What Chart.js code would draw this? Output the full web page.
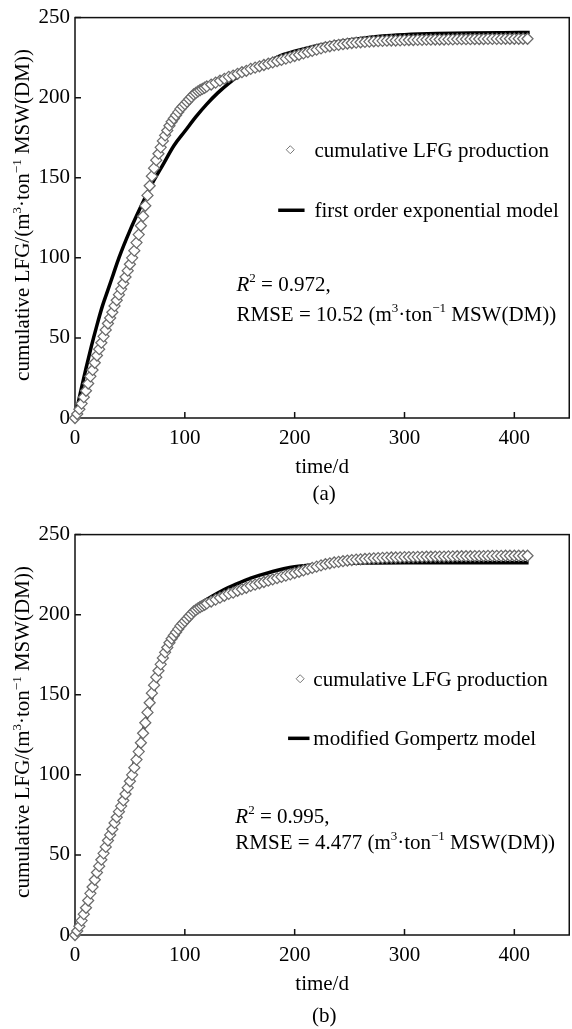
<!DOCTYPE html>
<html>
<head>
<meta charset="utf-8">
<script src="https://cdn.jsdelivr.net/npm/chart.js@4.4.1/dist/chart.umd.min.js"></script>
<style>
  html, body { margin: 0; padding: 0; background: #fff; overflow: hidden; width: 572px; height: 1029px; }
  .box { position: absolute; left: 0; width: 576px; height: 512px; }
</style>
</head>
<body>
<div class="box" style="top:0"><canvas id="chartA" width="576" height="512"></canvas></div>
<div class="box" style="top:517px"><canvas id="chartB" width="576" height="512"></canvas></div>
<script>
// measured cumulative LFG production, m3/ton MSW(DM)
const days = [0, 2, 4, 6, 8, 10, 12, 14, 16, 18, 20, 22, 24, 26, 28, 30, 32, 34, 36, 38,
  40, 42, 44, 46, 48, 50, 52, 54, 56, 58, 60, 62, 64, 66, 68, 70, 72, 74, 76, 78,
  80, 82, 84, 86, 88, 90, 92, 94, 96, 98, 100, 102, 104, 106, 108, 110, 112, 114, 116, 118,
  120, 124, 128, 132, 136, 140, 144, 148, 152, 156, 160, 164, 168, 172, 176, 180, 184, 188, 192, 196,
  200, 204, 208, 212, 216, 220, 224, 228, 232, 236, 240, 244, 248, 252, 256, 260, 264, 268, 272, 276,
  280, 284, 288, 292, 296, 300, 304, 308, 312, 316, 320, 324, 328, 332, 336, 340, 344, 348, 352, 356,
  360, 364, 368, 372, 376, 380, 384, 388, 392, 396, 400, 404, 408, 412];
const cumulativeLFG = [0, 2.5, 5.5, 9, 13, 17, 21.5, 26, 30, 34.5, 39, 43, 47, 51, 55, 59, 62.5, 66, 70, 73.5,
  77, 80.5, 84, 88, 92, 96, 100, 104.5, 109.5, 114.5, 120, 126, 132.5, 139, 145, 151, 156, 161, 165, 169,
  173, 176.5, 179.5, 182.5, 185, 187, 189, 191, 193, 194.5, 196, 197.5, 199, 200.5, 202, 203, 204, 204.8, 205.5, 206.2,
  207, 208.2, 209.4, 210.6, 211.8, 213, 213.8, 214.9, 215.9, 216.8, 218, 218.8, 219.6, 220.4, 221.2, 222, 222.8, 223.6, 224.4, 225.2,
  226, 226.8, 227.6, 228.4, 229.2, 230, 230.8, 231.5, 232.1, 232.6, 233, 233.4, 233.8, 234.1, 234.4, 234.6, 234.8, 235, 235.2, 235.3,
  235.5, 235.6, 235.7, 235.7, 235.8, 235.9, 236, 236, 236.1, 236.1, 236.2, 236.2, 236.3, 236.3, 236.3, 236.4, 236.4, 236.5, 236.5, 236.5,
  236.5, 236.6, 236.6, 236.6, 236.7, 236.7, 236.7, 236.7, 236.8, 236.8, 236.8, 236.8, 236.8, 236.8];

// first order exponential model (a)
const expDays = [0, 5, 10, 15, 20, 25, 30, 35, 40, 50, 60, 70, 80, 90, 100, 110, 120, 130, 140, 150,
  160, 170, 180, 190, 200, 220, 240, 260, 280, 300, 330, 360, 390, 414];
const expModel = [0, 16, 31, 45, 58, 70, 80, 90, 100, 117, 132, 146, 158, 170, 179, 188, 196, 203, 209, 214,
  218, 221, 224, 227, 229, 232.5, 235, 237, 238.5, 239.3, 240, 240.4, 240.6, 240.7];

// modified Gompertz model (b)
const gompDays = [0, 5, 10, 15, 20, 25, 30, 35, 40, 45, 50, 55, 60, 65, 70, 75, 80, 85, 90, 95,
  100, 110, 120, 130, 140, 150, 160, 170, 180, 190, 200, 220, 240, 270, 300, 350, 413];
const gompModel = [1, 7, 16, 27, 38, 49, 59, 69, 79, 89, 99, 110, 122, 135, 148, 160, 170, 179, 186, 192,
  197, 205, 209.5, 213.5, 217, 220, 222.8, 225, 227, 228.7, 230, 231.3, 232, 232.3, 232.4, 232.4, 232.4];

const xTicks = [0, 100, 200, 300, 400];
const yTicks = [0, 50, 100, 150, 200, 250];

const serif = '"Liberation Serif", "Times New Roman", serif';
const FS = 21;

function drawRuns(ctx, x, y, parts, size) {
  let cx = x;
  for (const p of parts) {
    const s = p.sup ? Math.round(size * 0.64) : size;
    ctx.font = (p.it ? 'italic ' : '') + s + 'px ' + serif;
    ctx.fillText(p.t, cx, p.sup ? y - size * 0.4 : y);
    cx += ctx.measureText(p.t).width;
  }
  return cx - x;
}
function runsWidth(ctx, parts, size) {
  let w = 0;
  for (const p of parts) {
    const s = p.sup ? Math.round(size * 0.64) : size;
    ctx.font = (p.it ? 'italic ' : '') + s + 'px ' + serif;
    w += ctx.measureText(p.t).width;
  }
  return w;
}
const unit = [{t: ' (m'}, {t: '3', sup: true}, {t: '·ton'}, {t: '−1', sup: true}, {t: ' MSW(DM))'}];
const yTitle = [{t: 'cumulative LFG/(m'}, {t: '3', sup: true}, {t: '·ton'}, {t: '−1', sup: true}, {t: ' MSW(DM))'}];

const frame = {
  id: 'frame',
  beforeDatasetsDraw(chart) {
    const {ctx, chartArea: a, scales: {x, y}} = chart;
    ctx.save();
    ctx.strokeStyle = '#111';
    ctx.lineWidth = 1.5;
    ctx.strokeRect(a.left, a.top, a.right - a.left, a.bottom - a.top);
    ctx.beginPath();
    xTicks.forEach(v => {
      const px = x.getPixelForValue(v);
      ctx.moveTo(px, a.bottom);
      ctx.lineTo(px, a.bottom - 6);
    });
    yTicks.forEach(v => {
      const py = y.getPixelForValue(v);
      ctx.moveTo(a.left, py);
      ctx.lineTo(a.left + 6, py);
    });
    ctx.stroke();
    ctx.restore();
  },
  afterDraw(chart) {
    const n = chart.options.plugins.frame;
    const {ctx, chartArea: a, scales: {x, y}} = chart;
    const X = v => x.getPixelForValue(v), Y = v => y.getPixelForValue(v);
    const base = FS * 0.33;
    ctx.save();
    ctx.fillStyle = '#000';
    ctx.textBaseline = 'alphabetic';
    ctx.textAlign = 'left';

    // legend: marker row
    ctx.beginPath();
    const dx = X(n.sym[0]), dy = Y(n.sym[1]);
    ctx.moveTo(dx, dy - 4); ctx.lineTo(dx + 4, dy); ctx.lineTo(dx, dy + 4); ctx.lineTo(dx - 4, dy); ctx.closePath();
    ctx.strokeStyle = '#777'; ctx.lineWidth = 1; ctx.stroke();
    drawRuns(ctx, X(n.text[0]), Y(n.sym[1]) + base, [{t: 'cumulative LFG production'}], FS);

    // legend: line row
    ctx.beginPath();
    ctx.moveTo(X(n.line[0]), Y(n.line[2]));
    ctx.lineTo(X(n.line[1]), Y(n.line[2]));
    ctx.strokeStyle = '#000'; ctx.lineWidth = 3.5; ctx.stroke();
    drawRuns(ctx, X(n.text[0]), Y(n.line[2]) + base, [{t: n.model}], FS);

    // fit statistics
    drawRuns(ctx, X(n.stats[0]), Y(n.stats[1]) + base,
      [{t: 'R', it: true}, {t: '2', sup: true}, {t: ' = ' + n.r2 + ','}], FS);
    drawRuns(ctx, X(n.stats[0]), Y(n.stats[2]) + base,
      [{t: 'RMSE = ' + n.rmse}].concat(unit), FS);

    // axis titles and caption
    const cx = (a.left + a.right) / 2;
    ctx.font = FS + 'px ' + serif;
    ctx.textAlign = 'center';
    ctx.fillText('time/d', cx, 466 + base);
    ctx.fillText(n.caption, cx + 2, n.captionY + base);

    ctx.textAlign = 'left';
    const w = runsWidth(ctx, yTitle, FS);
    ctx.translate(22 + base, 215 + w / 2);
    ctx.rotate(-Math.PI / 2);
    drawRuns(ctx, 0, 0, yTitle, FS);
    ctx.restore();
  }
};

function makeChart(id, mDays, mVals, notes) {
  const tickFont = {family: serif, size: FS};
  return new Chart(document.getElementById(id), {
    type: 'scatter',
    data: {
      datasets: [
        {
          label: 'cumulative LFG production',
          data: days.map((d, i) => ({x: d, y: cumulativeLFG[i]})),
          pointStyle: 'rectRot',
          pointRadius: 5.5,
          borderColor: '#6a6a6a',
          backgroundColor: '#ffffff',
          borderWidth: 1.25,
          clip: false,
        },
        {
          type: 'line',
          label: notes.model,
          data: mDays.map((d, i) => ({x: d, y: mVals[i]})),
          borderColor: '#000',
          borderWidth: 3.5,
          pointRadius: 0,
          cubicInterpolationMode: 'monotone',
          fill: false,
          clip: false,
        },
      ],
    },
    options: {
      responsive: false,
      animation: false,
      layout: {padding: {top: 15, left: 0, right: 1.5, bottom: 0}},
      plugins: {
        legend: {display: false},
        tooltip: {enabled: false},
        frame: notes,
      },
      scales: {
        x: {
          type: 'linear',
          min: 0,
          max: 450,
          afterBuildTicks: s => { s.ticks = xTicks.map(v => ({value: v})); },
          afterFit: s => { s.height = 94; },
          grid: {display: false, drawTicks: false},
          border: {display: false},
          ticks: {font: tickFont, color: '#000', padding: 8, maxRotation: 0},
        },
        y: {
          min: 0,
          max: 250,
          afterBuildTicks: s => { s.ticks = yTicks.map(v => ({value: v})); },
          afterFit: s => { s.width = 75; },
          grid: {display: false, drawTicks: false},
          border: {display: false},
          ticks: {font: tickFont, color: '#000', padding: 5},
        },
      },
    },
    plugins: [frame],
  });
}

makeChart('chartA', expDays, expModel, {
  model: 'first order exponential model',
  sym: [196, 167.5], text: [218], line: [185, 209, 129.7],
  stats: [147, 83.7, 65], r2: '0.972', rmse: '10.52',
  caption: '(a)', captionY: 493,
});
makeChart('chartB', gompDays, gompModel, {
  model: 'modified Gompertz model',
  sym: [205, 160], text: [217], line: [194, 213.5, 122.8],
  stats: [146, 74.4, 58.3], r2: '0.995', rmse: '4.477',
  caption: '(b)', captionY: 498,
});
</script>
</body>
</html>
